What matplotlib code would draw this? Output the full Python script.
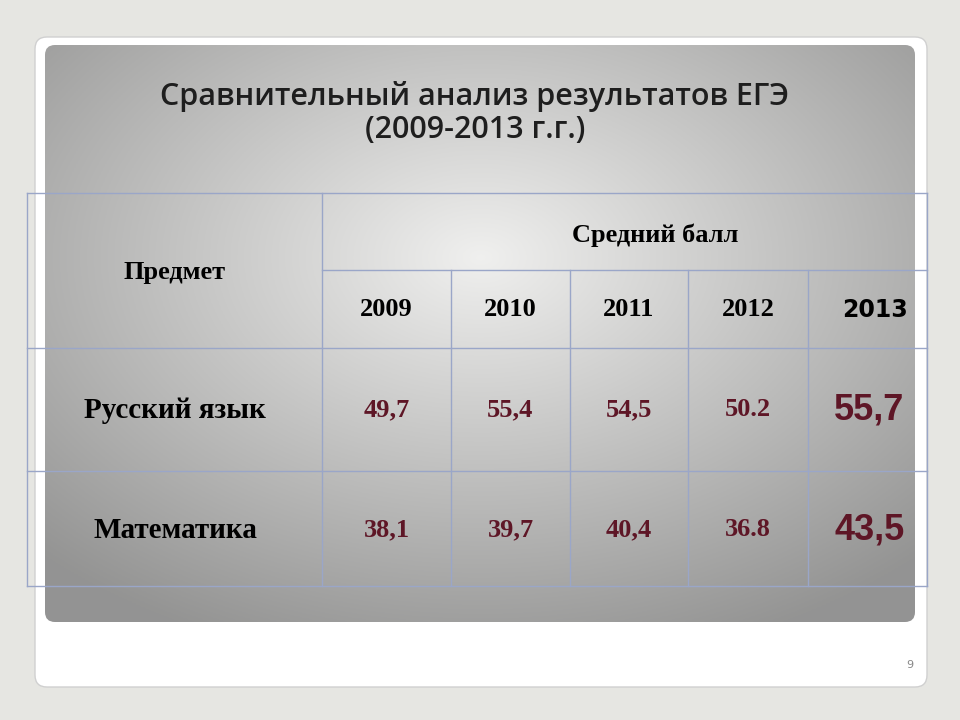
import numpy as np
import matplotlib
matplotlib.use("Agg")
import matplotlib.pyplot as plt
from matplotlib.patches import FancyBboxPatch

title_lines = ["Сравнительный анализ результатов ЕГЭ", "(2009-2013 г.г.)"]
header_subject = "Предмет"
header_avg = "Средний балл"
years = ["2009", "2010", "2011", "2012", "2013"]
subjects = ["Русский язык", "Математика"]
values = [["49,7", "55,4", "54,5", "50.2", "55,7"],
          ["38,1", "39,7", "40,4", "36.8", "43,5"]]

fig = plt.figure(figsize=(9.6, 7.2), dpi=100)
fig.patch.set_facecolor("#e6e6e2")
ax = fig.add_axes([0, 0, 1, 1])
ax.set_xlim(0, 960); ax.set_ylim(720, 0); ax.axis("off")

ax.add_patch(FancyBboxPatch((35, 37), 892, 650, boxstyle="round,pad=0,rounding_size=12",
                            fc="white", ec="#d0d0d0", lw=1, zorder=1))
yy, xx = np.mgrid[0:300, 0:450]
cx, cy = 225, 110
d = np.sqrt(((xx - cx) / 450) ** 2 + ((yy - cy) / 300) ** 2)
g = np.clip(0.94 - 0.5 * d, 0.58, 0.95)
img = np.dstack([g, g, g * 0.995])
im = ax.imshow(img, extent=(45, 915, 622, 45), zorder=2, aspect="auto")
clip = FancyBboxPatch((45, 45), 870, 577, boxstyle="round,pad=0,rounding_size=10",
                      fc="none", ec="none", transform=ax.transData)
ax.add_patch(clip)
im.set_clip_path(clip)

tc = "#1e1e1e"
for txt, y in zip(title_lines, [96, 130]):
    ax.text(475, y, txt, ha="center", va="center", fontsize=22, weight="semibold",
            color=tc, family="Open Sans", zorder=5)

lc = "#9aa6c8"
xs = [27, 322, 451, 570, 688, 808, 927]
kw = dict(color=lc, lw=1, zorder=4)
ax.plot([27, 927], [193, 193], **kw)
ax.plot([322, 927], [270, 270], **kw)
for y in [348, 471, 586]:
    ax.plot([27, 927], [y, y], **kw)
ax.plot([27, 27], [193, 586], **kw)
ax.plot([927, 927], [193, 586], **kw)
ax.plot([322, 322], [193, 586], **kw)
for x in xs[2:-1]:
    ax.plot([x, x], [270, 586], **kw)

sf = "Liberation Serif"
ax.text(175, 272, header_subject, ha="center", va="center", fontsize=19, weight="bold", family=sf, zorder=5)
ax.text(655, 235, header_avg, ha="center", va="center", fontsize=19, weight="bold", family=sf, zorder=5)
centers = [(xs[i] + xs[i + 1]) / 2 for i in range(1, 6)]
for i, (c, yr) in enumerate(zip(centers, years)):
    if i == 4:
        ax.text(c + 8, 310, yr, ha="center", va="center", fontsize=17, weight="bold", family="DejaVu Sans", zorder=5)
    else:
        ax.text(c, 310, yr, ha="center", va="center", fontsize=19, weight="bold", family=sf, zorder=5)
vc = "#5e1626"
for r, (subj, ys) in enumerate(zip(subjects, [410, 530])):
    ax.text(175, ys, subj, ha="center", va="center", fontsize=21, weight="bold", family=sf, zorder=5)
    for i, (c, v) in enumerate(zip(centers, values[r])):
        big = i == 4
        ax.text(c + (2 if big else 0), ys, v, ha="center", va="center",
                fontsize=26 if big else 19, weight="bold",
                family="Liberation Sans" if big else sf, color=vc, zorder=5)

ax.text(910, 665, "9", ha="center", va="center", fontsize=8, color="#888888", zorder=5)
fig.savefig("out.png", dpi=100)
